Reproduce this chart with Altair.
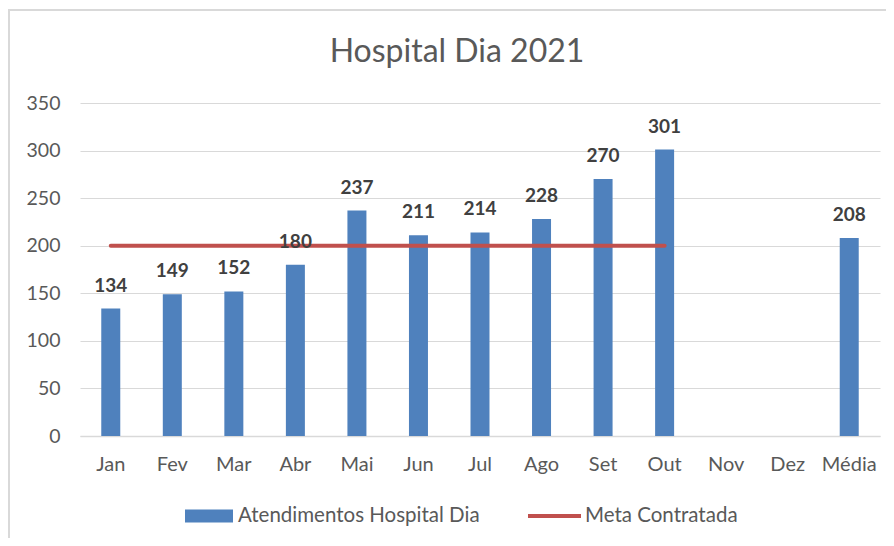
import altair as alt
import pandas as pd

months = ["Jan", "Fev", "Mar", "Abr", "Mai", "Jun", "Jul", "Ago", "Set", "Out", "Nov", "Dez", "Média"]
atend = [134, 149, 152, 180, 237, 211, 214, 228, 270, 301, None, None, 208]
meta_months = ["Jan", "Fev", "Mar", "Abr", "Mai", "Jun", "Jul", "Ago", "Set", "Out"]
meta_vals = [200] * 10

bars_df = pd.DataFrame({"mes": months, "valor": atend, "serie": "Atendimentos Hospital Dia"})
meta_df = pd.DataFrame({"mes": meta_months, "valor": meta_vals, "serie": "Meta Contratada"})

FONT = "Lato"
GRAY = "#595959"
xscale = alt.Scale(domain=months, paddingInner=0, paddingOuter=0)
yscale = alt.Scale(domain=[0, 350])

x = alt.X("mes:N", scale=xscale, sort=months, title=None,
          axis=alt.Axis(labelAngle=0, ticks=False, domainColor="#D9D9D9", domainWidth=1.5,
                        labelPadding=18, labelFontSize=20, labelColor=GRAY, labelFont=FONT))
y = alt.Y("valor:Q", scale=yscale, title=None,
          axis=alt.Axis(values=[0, 50, 100, 150, 200, 250, 300, 350], ticks=False, domain=False,
                        gridColor="#D9D9D9", gridWidth=1, labelPadding=20, labelFontSize=19.5,
                        labelColor=GRAY, labelFont=FONT))

bars = alt.Chart(bars_df).mark_bar(size=19).encode(
    x=x, y=y,
    fill=alt.Fill("serie:N", scale=alt.Scale(domain=["Atendimentos Hospital Dia"], range=["#4F81BD"]),
                  legend=alt.Legend(title=None, orient="none", legendX=105, legendY=389,
                                    symbolType="M-1,-0.27H1V0.27H-1Z", symbolSize=2304,
                                    labelFontSize=20.5, labelColor=GRAY, labelFont=FONT,
                                    symbolStrokeWidth=0, labelOffset=5, labelLimit=400, padding=0))
)

labels = alt.Chart(bars_df).mark_text(dy=-23, fontSize=19, fontWeight="bold", color="#404040", font=FONT).encode(
    x=alt.X("mes:N", scale=xscale, sort=months),
    y=alt.Y("valor:Q", scale=yscale),
    text=alt.Text("valor:Q", format="d"),
)

line = alt.Chart(meta_df).mark_line(strokeWidth=4, strokeCap="round").encode(
    x=alt.X("mes:N", scale=xscale, sort=months),
    y=alt.Y("valor:Q", scale=yscale),
    stroke=alt.Stroke("serie:N", scale=alt.Scale(domain=["Meta Contratada"], range=["#C0504D"]),
                      legend=alt.Legend(title=None, orient="none", legendX=446, legendY=384.5,
                                        symbolType="stroke", symbolSize=2809, symbolStrokeWidth=4,
                                        labelFontSize=20.5, labelColor=GRAY, labelFont=FONT,
                                        labelOffset=2, labelLimit=400, padding=0)),
)

frame = alt.Chart(pd.DataFrame({"k": [0]})).mark_rect(fill=None, stroke="#D9D9D9", strokeWidth=2).encode(
    x=alt.value(-71), x2=alt.value(830), y=alt.value(-93), y2=alt.value(460)
)

chart = alt.layer(frame, bars, line, labels).resolve_scale(fill="independent", stroke="independent").properties(
    width=800, height=333,
    title=alt.TitleParams("Hospital Dia 2021", fontSize=32, font=FONT, fontWeight="normal",
                          color=GRAY, anchor="middle", frame="group", offset=-60, dx=-23),
    autosize=alt.AutoSizeParams(type="none"),
    padding={"left": 72, "top": 95, "right": 6, "bottom": 102},
).configure_view(stroke=None)

chart.save("out.html", embed_options={"renderer": "svg", "actions": False})
